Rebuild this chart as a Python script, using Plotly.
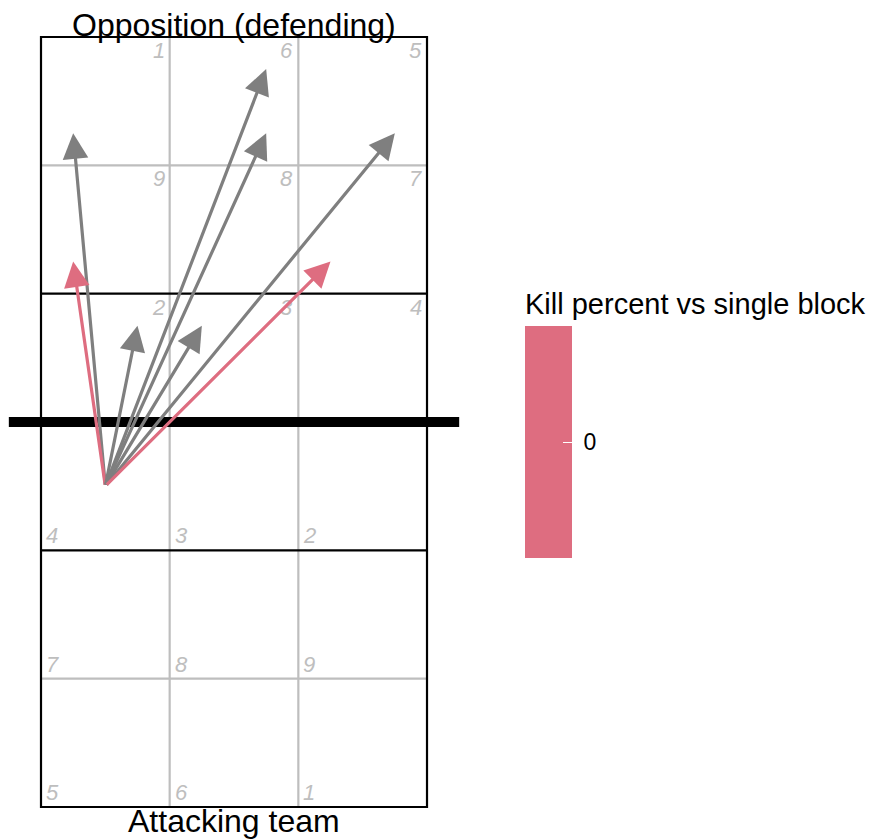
import plotly.graph_objects as go

# ---- data ----
start_x = 1.0
start_y = 3.0
end_x = [0.75, 0.75, 1.25, 1.75, 2.25, 2.25, 3.25, 2.75]
end_y = [5.75, 4.75, 4.25, 4.25, 6.25, 5.75, 5.75, 4.75]
kill_pct_single = [None, 0, None, None, None, None, None, 0]  # None = not vs single block

zone_cols = [1.0, 2.0, 3.0]
# zone numbers, attacking half (bottom), rows from net downward
attack_rows_y = [3.0, 2.0, 1.0]
attack_zones = [[4, 3, 2], [7, 8, 9], [5, 6, 1]]
# zone numbers, defending half (top), rows from net upward
defend_rows_y = [4.0, 5.0, 6.0]
defend_zones = [[2, 3, 4], [9, 8, 7], [1, 6, 5]]

gray_lines_v = [1.5, 2.5]
gray_lines_h = [1.5, 5.5]
black_lines_h = [2.5, 4.5]
net_y = 3.5

PINK = "#DE6D80"
GREY = "#7F7F7F"
ZONE_GREY = "#BEBEBE"
FONT = "Liberation Sans, Arial, sans-serif"

# page body has an 8px default margin, so the figure is 8px smaller and offset
OFF = 8
W, H = 875 - OFF, 839 - OFF
PX_X, PX_Y = 128.67, 128.33

fig = go.Figure()

# colourbar carrier (single-block attacks, kill percent)
bar_top, bar_bottom, title_space = 327 - OFF, 558 - OFF, 38
cb_len = (bar_bottom - bar_top) + title_space
cb_center = bar_bottom - cb_len / 2
fig.add_trace(go.Scatter(
    x=[start_x], y=[start_y], mode="markers", hoverinfo="skip", showlegend=False,
    marker=dict(size=1, opacity=0, color=[0], cmin=-1, cmax=1,
                colorscale=[[0, PINK], [1, PINK]], showscale=True,
                colorbar=dict(
                    title=dict(text="Kill percent vs single block", side="top",
                               font=dict(size=29, color="black", family=FONT)),
                    x=(525 - OFF) / W, xanchor="left", xpad=0, ypad=0,
                    y=1 - cb_center / H, yanchor="middle",
                    len=cb_len, lenmode="pixels", thickness=47, thicknessmode="pixels",
                    outlinewidth=0, tickvals=[0], ticktext=["\u00a00"],
                    ticks="inside", ticklen=9, tickcolor="white", tickwidth=1,
                    tickfont=dict(size=23, color="black", family=FONT),
                ))))

shapes = []
for xv in gray_lines_v:
    shapes.append(dict(type="line", x0=xv, x1=xv, y0=0.5, y1=6.5, xref="x", yref="y",
                       line=dict(color=ZONE_GREY, width=2.2), layer="below"))
for yv in gray_lines_h:
    shapes.append(dict(type="line", x0=0.5, x1=3.5, y0=yv, y1=yv, xref="x", yref="y",
                       line=dict(color=ZONE_GREY, width=2.2), layer="below"))
for yv in black_lines_h:
    shapes.append(dict(type="line", x0=0.5, x1=3.5, y0=yv, y1=yv, xref="x", yref="y",
                       line=dict(color="black", width=2.2), layer="below"))
shapes.append(dict(type="rect", x0=0.5, x1=3.5, y0=0.5, y1=6.5, xref="x", yref="y",
                   line=dict(color="black", width=2.2), layer="below"))
shapes.append(dict(type="line", x0=0.25, x1=3.75, y0=net_y, y1=net_y, xref="x", yref="y",
                   line=dict(color="black", width=10), layer="below"))

annotations = []
# zone labels
for row_y, zones in zip(attack_rows_y, attack_zones):
    for cx, z in zip(zone_cols, zones):
        annotations.append(dict(x=cx - 0.5, y=row_y - 0.5, xref="x", yref="y",
                                text="<i>%d</i>" % z,
                                showarrow=False, xanchor="left", yanchor="bottom",
                                xshift=3, yshift=0,
                                font=dict(size=22, color=ZONE_GREY, family=FONT)))
for row_y, zones in zip(defend_rows_y, defend_zones):
    for cx, z in zip(zone_cols, zones):
        annotations.append(dict(x=cx + 0.5, y=row_y + 0.5, xref="x", yref="y",
                                text="<i>%d</i>" % z,
                                showarrow=False, xanchor="right", yanchor="top",
                                xshift=-3, yshift=1,
                                font=dict(size=22, color=ZONE_GREY, family=FONT)))

# titles
annotations.append(dict(x=2.0, y=6.5, xref="x", yref="y", text="Opposition (defending)",
                        showarrow=False, xanchor="center", yanchor="middle", yshift=12,
                        font=dict(size=32, color="black", family=FONT)))
annotations.append(dict(x=2.0, y=0.5, xref="x", yref="y", text="Attacking team",
                        showarrow=False, xanchor="center", yanchor="middle", yshift=-14,
                        font=dict(size=32, color="black", family=FONT)))

# attack arrows
for ex, ey, kp in zip(end_x, end_y, kill_pct_single):
    col = PINK if kp is not None else GREY
    annotations.append(dict(x=ex, y=ey, ax=start_x, ay=start_y, xref="x", yref="y",
                            axref="x", ayref="y", text="", showarrow=True,
                            arrowhead=2, arrowsize=1.6, arrowwidth=3.2, arrowcolor=col,
                            standoff=0, startstandoff=0))

x0 = 0.5 - (41 - OFF) / PX_X
y_top = 6.5 + (37 - OFF) / PX_Y
fig.update_layout(
    width=W, height=H, autosize=False,
    margin=dict(l=0, r=0, t=0, b=0, pad=0),
    paper_bgcolor="white", plot_bgcolor="white",
    xaxis=dict(range=[x0, x0 + W / PX_X], visible=False, fixedrange=True),
    yaxis=dict(range=[y_top - H / PX_Y, y_top], visible=False, fixedrange=True),
    shapes=shapes, annotations=annotations, showlegend=False,
)

fig.write_html("out.html")
